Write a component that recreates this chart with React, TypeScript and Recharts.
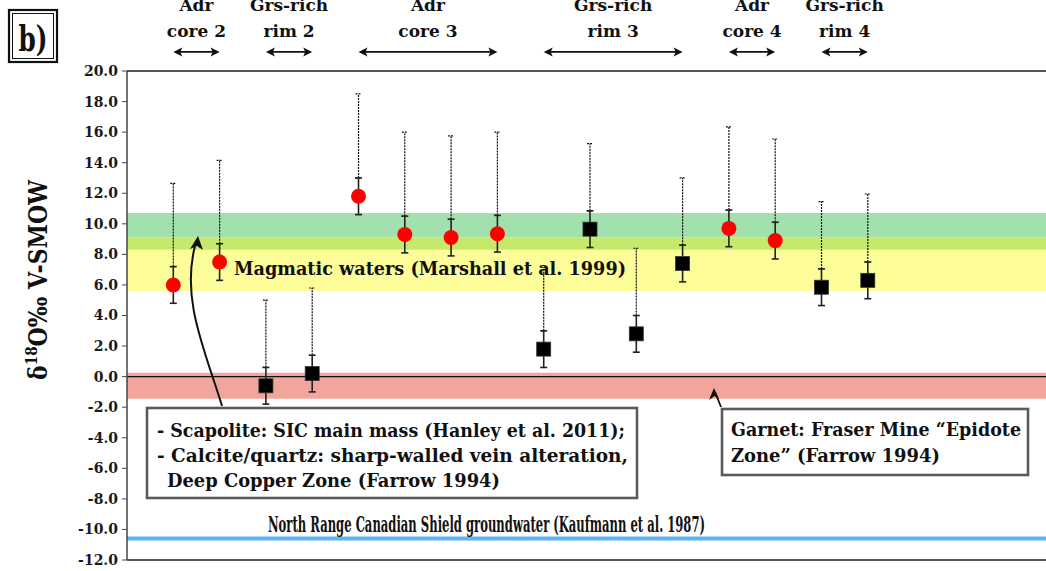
import { ScatterChart, Scatter, XAxis, YAxis, ErrorBar, ReferenceArea, ReferenceLine } from 'recharts';

const SERIF = "'DejaVu Serif', 'Liberation Serif', serif";

// analysis spots along the traverse, core → rim
const spot = [1, 2, 3, 4, 5, 6, 7, 8, 9, 10, 11, 12, 13, 14, 15, 16];
const mineral = ['adr', 'adr', 'grs', 'grs', 'adr', 'adr', 'adr', 'adr', 'grs', 'grs', 'grs', 'grs', 'adr', 'adr', 'grs', 'grs'];
// calculated fluid δ18O (‰ V-SMOW)
const d18O = [6.0, 7.5, -0.6, 0.2, 11.8, 9.3, 9.1, 9.35, 1.8, 9.65, 2.8, 7.4, 9.7, 8.9, 5.85, 6.3];
const analyticalErr = [1.2, 1.2, 1.2, 1.2, 1.2, 1.2, 1.2, 1.2, 1.2, 1.2, 1.2, 1.2, 1.2, 1.2, 1.2, 1.2];
// upper limit of the dashed range
const upperLimit = [12.65, 14.15, 5.0, 5.8, 18.5, 16.0, 15.75, 16.0, 7.15, 15.25, 8.4, 13.0, 16.35, 15.55, 11.45, 11.95];

const yTicks = [-12, -10, -8, -6, -4, -2, 0, 2, 4, 6, 8, 10, 12, 14, 16, 18, 20];

const groupTitle = ['Adr', 'Grs-rich', 'Adr', 'Grs-rich', 'Adr', 'Grs-rich'];
const groupSub = ['core 2', 'rim 2', 'core 3', 'rim 3', 'core 4', 'rim 4'];
const groupFrom = [1, 3, 5, 9, 13, 15];
const groupTo = [2, 4, 8, 12, 14, 16];
const groupArrowY = 21.25;

const greenBand = [8.3, 10.7];
const magmaticBand = [5.6, 9.1];
const redBand = [-1.45, 0.25];
const groundwater = -10.6;

const rows = spot.map((x, i) => ({
  x,
  mineral: mineral[i],
  d18O: d18O[i],
  err: analyticalErr[i],
  cap: d18O[i] + analyticalErr[i],
  ext: [0, upperLimit[i] - (d18O[i] + analyticalErr[i])],
}));
const adrRows = rows.filter((r) => r.mineral === 'adr');
const grsRows = rows.filter((r) => r.mineral === 'grs');

const RedDot = (p: any) => <circle cx={p.cx} cy={p.cy} r={7.5} fill="#ff0000" />;
const BlackSquare = (p: any) => (
  <rect x={p.cx - 7} y={p.cy - 7} width={14} height={14} fill="#000" stroke="#333" strokeWidth={0.8} />
);
const Nothing = () => <g />;

// double-headed arrow with a two-line heading above it
const groupShape = (title: string, sub: string) => (p: any) => {
  const { x1, x2, y1 } = p;
  const mid = (x1 + x2) / 2;
  return (
    <g>
      <line x1={x1 + 4} y1={y1} x2={x2 - 4} y2={y1} stroke="#111" strokeWidth={1.6} />
      <polygon points={`${x1},${y1} ${x1 + 9},${y1 - 4.5} ${x1 + 7},${y1} ${x1 + 9},${y1 + 4.5}`} fill="#111" />
      <polygon points={`${x2},${y1} ${x2 - 9},${y1 - 4.5} ${x2 - 7},${y1} ${x2 - 9},${y1 + 4.5}`} fill="#111" />
      <text x={mid} y={y1 - 41} textAnchor="middle" fontFamily={SERIF} fontWeight="bold" fontSize={17} fill="#111">
        {title}
      </text>
      <text x={mid} y={y1 - 14.5} textAnchor="middle" fontFamily={SERIF} fontWeight="bold" fontSize={17} fill="#111">
        {sub}
      </text>
    </g>
  );
};

export default function App() {
  return (
    <div style={{ position: 'absolute', left: 0, top: 0, width: 1046, height: 571, overflow: 'hidden', background: '#fff' }}>
      <ScatterChart width={1060} height={571} margin={{ top: 71, right: 7, bottom: 10, left: 57 }}>
        <XAxis
          type="number"
          dataKey="x"
          domain={[0, 20]}
          allowDataOverflow
          height={1}
          tick={false}
          tickLine={false}
          axisLine={{ stroke: '#555', strokeWidth: 2 }}
        />
        <YAxis
          type="number"
          domain={[-12, 20]}
          allowDataOverflow
          ticks={yTicks}
          width={70}
          tickFormatter={(v: number) => v.toFixed(1)}
          tickSize={5}
          tickMargin={4}
          tickLine={{ stroke: '#444' }}
          axisLine={{ stroke: '#444', strokeWidth: 1.5 }}
          tick={{ fontFamily: SERIF, fontWeight: 'bold', fontSize: 14, fill: '#1a1a1a' }}
        />
        <ReferenceArea y1={magmaticBand[0]} y2={greenBand[0]} fill="#fdfd99" fillOpacity={1} stroke="none" />
        <ReferenceArea y1={greenBand[0]} y2={magmaticBand[1]} fill="#c7e96b" fillOpacity={1} stroke="none" />
        <ReferenceArea y1={magmaticBand[1]} y2={greenBand[1]} fill="#a2e0ae" fillOpacity={1} stroke="none" />
        <ReferenceArea y1={redBand[0]} y2={redBand[1]} fill="#f1a59b" fillOpacity={1} stroke="none" />
        <ReferenceLine y={0} stroke="#111" strokeWidth={1.2} />
        <ReferenceLine y={20} stroke="#555" strokeWidth={2} />
        <ReferenceLine y={groundwater} stroke="#5db4f6" strokeWidth={4} />
        {groupFrom.map((from, i) => (
          <ReferenceLine
            key={i}
            segment={[{ x: from, y: groupArrowY }, { x: groupTo[i], y: groupArrowY }]}
            ifOverflow="visible"
            shape={groupShape(groupTitle[i], groupSub[i])}
          />
        ))}
        <Scatter data={rows} dataKey="cap" shape={Nothing} isAnimationActive={false}>
          <ErrorBar dataKey="ext" direction="y" width={3} stroke="#111" strokeWidth={1.2} strokeDasharray="2 1" />
        </Scatter>
        <Scatter data={adrRows} dataKey="d18O" shape={RedDot} isAnimationActive={false}>
          <ErrorBar dataKey="err" direction="y" width={3.5} stroke="#222" strokeWidth={1.6} />
        </Scatter>
        <Scatter data={grsRows} dataKey="d18O" shape={BlackSquare} isAnimationActive={false}>
          <ErrorBar dataKey="err" direction="y" width={3.5} stroke="#222" strokeWidth={1.6} />
        </Scatter>
      </ScatterChart>

      <svg width={1046} height={571} style={{ position: 'absolute', left: 0, top: 0, pointerEvents: 'none' }}>
        {/* panel letter */}
        <rect x={9} y={10} width={48} height={52} fill="#fff" stroke="#111" strokeWidth={2.2} />
        <rect x={12.5} y={13.5} width={41} height={45} fill="none" stroke="#111" strokeWidth={1} />
        <text x={33} y={51} textAnchor="middle" fontFamily={SERIF} fontWeight="bold" fontSize={36} textLength={29} lengthAdjust="spacingAndGlyphs" fill="#111">
          b)
        </text>

        {/* y-axis title */}
        <text x={47} y={280} transform="rotate(-90 47 280)" textAnchor="middle" fontFamily={SERIF} fontWeight="bold" fontSize={26} textLength={200} lengthAdjust="spacingAndGlyphs" fill="#111">
          δ<tspan dy={-10} fontSize={16}>18</tspan>
          <tspan dy={10}>O‰ V-SMOW</tspan>
        </text>

        <text x={234} y={275} fontFamily={SERIF} fontWeight="bold" fontSize={19} textLength={392} lengthAdjust="spacingAndGlyphs" fill="#111">
          Magmatic waters (Marshall et al. 1999)
        </text>

        <text x={268} y={532} fontFamily={SERIF} fontWeight="bold" fontSize={23} textLength={437} lengthAdjust="spacingAndGlyphs" fill="#111">
          North Range Canadian Shield groundwater (Kaufmann et al. 1987)
        </text>

        {/* curved pointer from the scapolite / calcite box */}
        <path d="M222,406 C205,350 181,300 195,246" fill="none" stroke="#111" strokeWidth={2} />
        <polygon points="198,236 203,250 197,246 190,249" fill="#111" />

        <rect x={147} y={408} width={490} height={90} fill="#fff" stroke="#5a5a5a" strokeWidth={2.6} />
        <g fontFamily={SERIF} fontWeight="bold" fontSize={18} fill="#111">
          <text x={157} y={437} textLength={468} lengthAdjust="spacingAndGlyphs">- Scapolite: SIC main mass (Hanley et al. 2011);</text>
          <text x={157} y={462} textLength={471} lengthAdjust="spacingAndGlyphs">- Calcite/quartz: sharp-walled vein alteration,</text>
          <text x={167} y={487} textLength={333} lengthAdjust="spacingAndGlyphs">Deep Copper Zone (Farrow 1994)</text>
        </g>

        {/* pointer from the garnet box */}
        <line x1={721} y1={407} x2={715} y2={392} stroke="#111" strokeWidth={1.8} />
        <polygon points="714,388 719,399 714.5,396 709,400" fill="#111" />

        <rect x={722} y={409} width={306} height={66} fill="#fff" stroke="#5a5a5a" strokeWidth={2.6} />
        <g fontFamily={SERIF} fontWeight="bold" fontSize={18} fill="#111">
          <text x={731} y={436} textLength={290} lengthAdjust="spacingAndGlyphs">Garnet: Fraser Mine “Epidote</text>
          <text x={731} y={462} textLength={209} lengthAdjust="spacingAndGlyphs">Zone” (Farrow 1994)</text>
        </g>
      </svg>
    </div>
  );
}
